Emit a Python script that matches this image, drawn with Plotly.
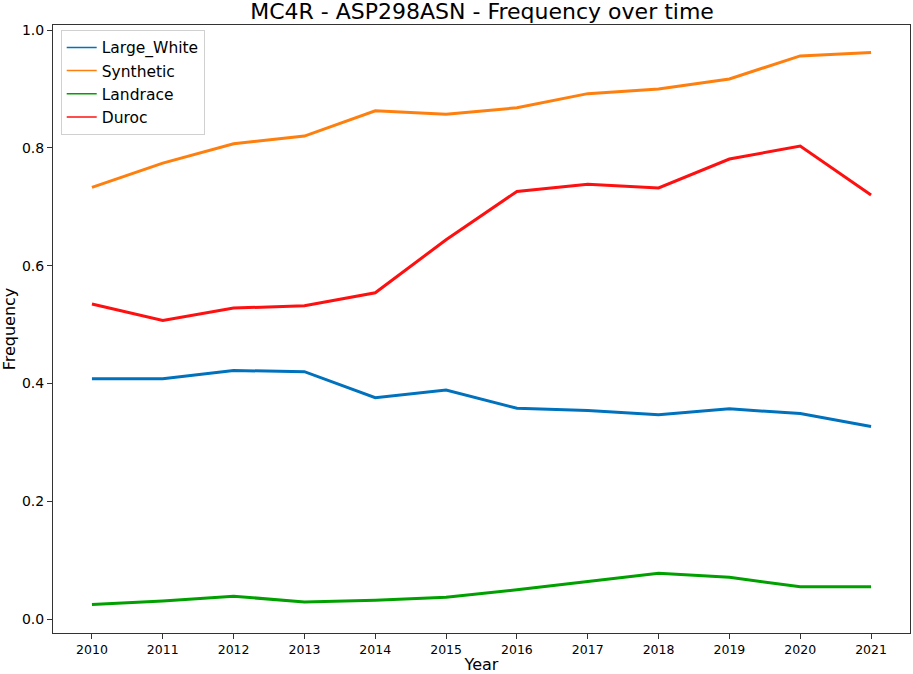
import plotly.graph_objects as go

# --- Data ---
years = [2010, 2011, 2012, 2013, 2014, 2015, 2016, 2017, 2018, 2019, 2020, 2021]

large_white = [0.408, 0.408, 0.422, 0.420, 0.376, 0.389, 0.358, 0.354, 0.347, 0.357, 0.349, 0.327]
synthetic = [0.733, 0.774, 0.807, 0.820, 0.863, 0.857, 0.868, 0.892, 0.900, 0.917, 0.956, 0.962]
landrace = [0.025, 0.031, 0.039, 0.029, 0.032, 0.037, 0.050, 0.064, 0.078, 0.071, 0.055, 0.055]
duroc = [0.535, 0.507, 0.528, 0.532, 0.554, 0.644, 0.726, 0.738, 0.732, 0.781, 0.803, 0.720]

series = [
    ("Large_White", large_white, "#0072bd"),
    ("Synthetic", synthetic, "#ff7f0e"),
    ("Landrace", landrace, "#00a000"),
    ("Duroc", duroc, "#ff1010"),
]

y_ticks = [0.0, 0.2, 0.4, 0.6, 0.8, 1.0]

fig = go.Figure()
for name, values, color in series:
    # thick line on the plot
    fig.add_trace(go.Scatter(x=years, y=values, mode="lines", name=name, showlegend=False,
                             line=dict(color=color, width=3)))
    # thin line for the legend entry only
    fig.add_trace(go.Scatter(x=[None], y=[None], mode="lines", name=name, legendgroup=name,
                             line=dict(color=color, width=1.5)))

axis_style = dict(showline=True, linecolor="#333", linewidth=1, mirror=True,
                  ticks="outside", ticklen=5, tickcolor="#333", showgrid=False,
                  zeroline=False, automargin=False)

fig.update_layout(
    width=913, height=674,
    margin=dict(l=53, r=3, t=25, b=41),
    paper_bgcolor="white", plot_bgcolor="white",
    font=dict(family="DejaVu Sans", color="black"),
    title=dict(text="MC4R - ASP298ASN - Frequency over time", x=0.528, xanchor="center",
               y=0.983, yanchor="middle", font=dict(size=22)),
    legend=dict(x=0.009, y=0.992, xanchor="left", yanchor="top",
                bordercolor="#d0d0d0", borderwidth=1, bgcolor="rgba(255,255,255,0.8)",
                font=dict(size=15.5), tracegroupgap=0),
)
fig.update_xaxes(axis_style, range=[2009.45, 2021.55], tickvals=years,
                 tickfont=dict(size=12.5),
                 title=dict(text="Year", font=dict(size=16)))
fig.update_yaxes(axis_style, range=[-0.0235, 1.0085], tickvals=y_ticks, tickformat=".1f",
                 tickfont=dict(size=14),
                 title=dict(text="Frequency", font=dict(size=16)))

# drop the page's default body margin so the figure sits at the window's corner
fig.write_html("out.html", config={"displayModeBar": False},
               post_script="document.body.style.margin='0';")
